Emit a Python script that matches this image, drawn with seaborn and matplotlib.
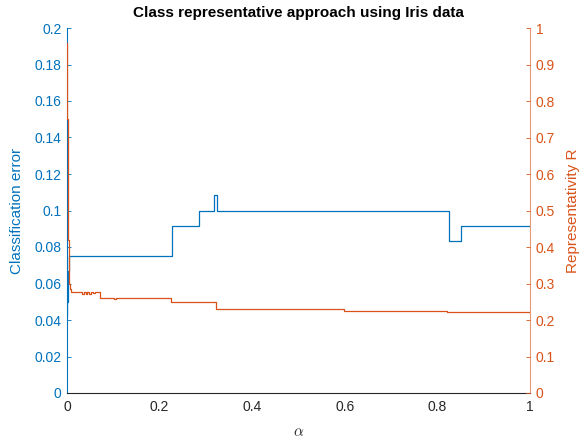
import numpy as np
import pandas as pd
import matplotlib
matplotlib.use("Agg")
import matplotlib.pyplot as plt
import seaborn as sns
from matplotlib.ticker import FuncFormatter, FixedLocator

# ---- data (change points, held constant until the next point) ----
alpha_err = [0.0, 0.001, 0.002, 0.003, 0.004, 0.005, 0.226, 0.286, 0.317, 0.324, 0.824, 0.850, 1.0]
class_error = [0.042, 0.050, 0.058, 0.0667, 0.0708, 0.075, 0.0917, 0.1, 0.1083, 0.1, 0.0833, 0.0917, 0.0917]

alpha_rep = [0.0, 0.001, 0.002, 0.003, 0.004, 0.005, 0.007, 0.009, 0.032, 0.036, 0.040, 0.044,
             0.048, 0.052, 0.056, 0.060, 0.071, 0.101, 0.106, 0.225, 0.322, 0.598, 0.820, 1.0]
representativity = [0.96, 0.75, 0.55, 0.42, 0.34, 0.30, 0.285, 0.276, 0.272, 0.276, 0.272, 0.276,
                    0.272, 0.276, 0.273, 0.276, 0.261, 0.257, 0.261, 0.2485, 0.229, 0.2247, 0.2227, 0.2227]

x_ticks = [0, 0.2, 0.4, 0.6, 0.8, 1.0]
left_ticks = [0, 0.02, 0.04, 0.06, 0.08, 0.1, 0.12, 0.14, 0.16, 0.18, 0.2]
right_ticks = [0, 0.1, 0.2, 0.3, 0.4, 0.5, 0.6, 0.7, 0.8, 0.9, 1.0]

title = "Class representative approach using Iris data"
left_label = "Classification error"
right_label = "Representativity R"
x_label = r"$\alpha$"

BLUE = "#0072BD"
ORANGE = "#D95319"
GRAY = "#262626"

sns.set_style("white")
plt.rcParams['font.family'] = ['Liberation Sans', 'DejaVu Sans']
plt.rcParams['mathtext.fontset'] = 'cm'

err_df = pd.DataFrame({"alpha": alpha_err, "error": class_error})
rep_df = pd.DataFrame({"alpha": alpha_rep, "R": representativity})

fig = plt.figure(figsize=(5.84, 4.38), dpi=100)
ax = fig.add_axes([67/584, 45/438, 463/584, 365/438])
ax2 = ax.twinx()

sns.lineplot(data=err_df, x="alpha", y="error", ax=ax, color=BLUE, lw=0.9,
             drawstyle="steps-post", estimator=None, sort=False)
sns.lineplot(data=rep_df, x="alpha", y="R", ax=ax2, color=ORANGE, lw=0.9,
             drawstyle="steps-post", estimator=None, sort=False)

fmt = FuncFormatter(lambda v, _: f"{round(v, 4):g}")

ax.set_xlim(0, 1)
ax.set_ylim(0, 0.2)
ax2.set_ylim(0, 1)
ax.xaxis.set_major_locator(FixedLocator(x_ticks))
ax.yaxis.set_major_locator(FixedLocator(left_ticks))
ax2.yaxis.set_major_locator(FixedLocator(right_ticks))
ax.xaxis.set_major_formatter(fmt)
ax.yaxis.set_major_formatter(fmt)
ax2.yaxis.set_major_formatter(fmt)

ax.tick_params(axis='x', direction='in', length=3, width=0.6, colors=GRAY, labelsize=10, pad=5)
ax.tick_params(axis='y', direction='in', length=3, width=0.6, colors=BLUE, labelsize=10, pad=4)
ax2.tick_params(axis='y', direction='in', length=3, width=0.6, colors=ORANGE, labelsize=10, pad=4)

for a in (ax, ax2):
    a.spines['top'].set_visible(False)
    a.grid(False)
ax.spines['left'].set_color(BLUE)
ax.spines['right'].set_visible(False)
ax.spines['bottom'].set_color(GRAY)
ax2.spines['left'].set_visible(False)
ax2.spines['bottom'].set_visible(False)
ax2.spines['right'].set_color(ORANGE)
ax2.spines['right'].set_alpha(0.6)
for s in ('left', 'bottom'):
    ax.spines[s].set_linewidth(0.8)
ax2.spines['right'].set_linewidth(0.8)

ax.set_ylabel(left_label, color=BLUE, fontsize=11)
ax.yaxis.set_label_coords(-0.092, 0.5)
ax2.set_ylabel(right_label, color=ORANGE, fontsize=11, rotation=90)
ax2.yaxis.set_label_coords(1.078, 0.5)
ax.set_xlabel(x_label, color=GRAY, fontsize=11)
ax.xaxis.set_label_coords(0.5, -0.107)
ax.xaxis.label.set_va('center')

ax.text(0.5, 1.041, title, transform=ax.transAxes, ha='center', va='center',
        fontsize=11, fontweight='bold', color='black')

fig.savefig("out.png", dpi=100)
